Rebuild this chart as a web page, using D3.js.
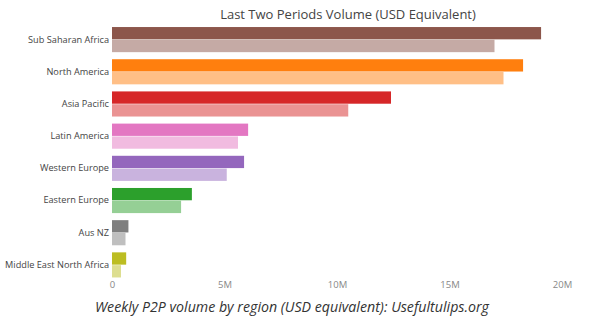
<!DOCTYPE html>
<html>
<head>
<meta charset="utf-8">
<script src="https://cdn.jsdelivr.net/npm/d3@7"></script>
<style>
  html, body { margin: 0; padding: 0; background: #fff; }
  svg { display: block; }
</style>
</head>
<body>
<svg id="chart" width="597" height="322"></svg>
<script>
const regions = ["Sub Saharan Africa", "North America", "Asia Pacific", "Latin America",
  "Western Europe", "Eastern Europe", "Aus NZ", "Middle East North Africa"];
const currentPeriod = [19.07, 18.27, 12.4, 6.05, 5.87, 3.55, 0.73, 0.63];   // millions USD
const previousPeriod = [17.0, 17.4, 10.5, 5.6, 5.1, 3.07, 0.6, 0.4];
const regionColors = ["#8c564b", "#ff7f0e", "#d62728", "#e377c2", "#9467bd", "#2ca02c", "#7f7f7f", "#bcbd22"];
const xTicks = [0, 5, 10, 15, 20];
const tickLabels = ["0", "5M", "10M", "15M", "20M"];
const periods = ["current", "previous"];
const titleText = "Last Two Periods Volume (USD Equivalent)";
const captionText = "Weekly P2P volume by region (USD equivalent): Usefultulips.org";

const svg = d3.select("#chart");
const font = "'Open Sans', sans-serif";

const x = d3.scaleLinear().domain([0, 20]).range([112, 562]);
const y = d3.scaleBand().domain(regions).range([23.5, 281]).paddingInner(0.22).paddingOuter(0.11);
const sub = d3.scaleBand().domain(periods).range([0, y.bandwidth()]).paddingInner(0.04);

const rows = regions.map((r, i) => ({
  region: r,
  vals: [
    { period: "current", value: currentPeriod[i], color: regionColors[i], opacity: 1 },
    { period: "previous", value: previousPeriod[i], color: regionColors[i], opacity: 0.5 }
  ]
}));

const g = svg.append("g");
const rowG = g.selectAll("g.row").data(rows).join("g")
  .attr("class", "row")
  .attr("transform", d => `translate(0,${y(d.region)})`);

rowG.selectAll("rect").data(d => d.vals).join("rect")
  .attr("x", x(0))
  .attr("y", d => sub(d.period))
  .attr("width", d => x(d.value) - x(0))
  .attr("height", sub.bandwidth())
  .attr("fill", d => d.color)
  .attr("fill-opacity", d => d.opacity);

// y axis labels
const yAxis = d3.axisLeft(y).tickSize(0).tickPadding(3);
const yg = svg.append("g").attr("transform", `translate(${x(0)},0)`).call(yAxis);
yg.select(".domain").remove();
yg.selectAll("text").attr("font-family", font).attr("font-size", 9.2).attr("fill", "#444");

// x axis
const xAxis = d3.axisBottom(x).tickValues(xTicks).tickSize(0).tickPadding(0)
  .tickFormat((d, i) => tickLabels[i]);
const xg = svg.append("g").attr("transform", "translate(0,281)").call(xAxis);
xg.select(".domain").remove();
xg.selectAll("text").attr("font-family", font).attr("font-size", 9.5).attr("fill", "#888");

// title
svg.append("text")
  .attr("x", 348).attr("y", 19)
  .attr("text-anchor", "middle")
  .attr("font-family", font).attr("font-size", 13)
  .attr("fill", "#444")
  .text(titleText);

// caption
svg.append("text")
  .attr("x", 292).attr("y", 312)
  .attr("text-anchor", "middle")
  .attr("font-family", font).attr("font-size", 14.2)
  .attr("font-style", "italic")
  .attr("fill", "#333")
  .text(captionText);
</script>
</body>
</html>
